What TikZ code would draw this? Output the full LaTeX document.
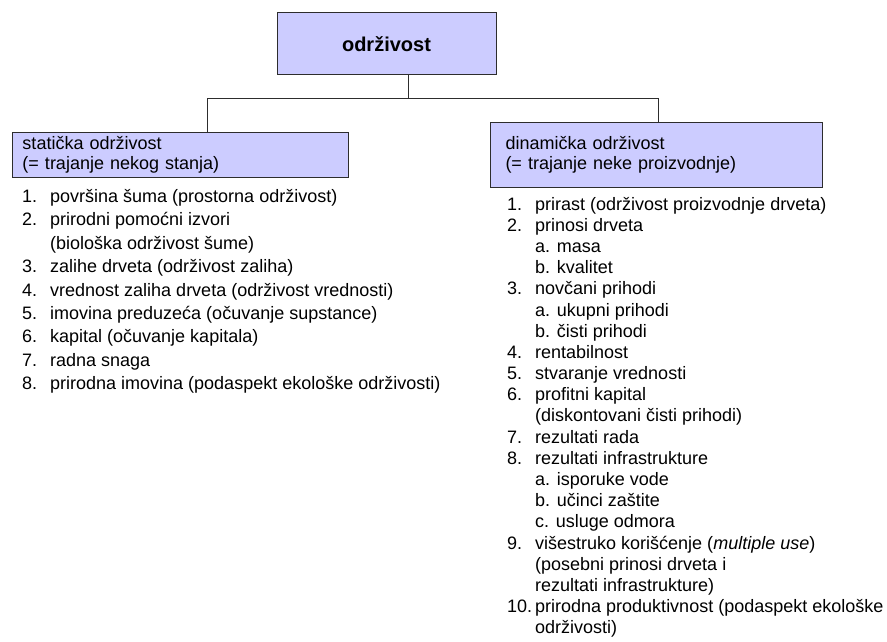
\documentclass[tikz,border=0pt]{standalone}
\usepackage{fontspec}
\setmainfont{Liberation Sans}
\usetikzlibrary{positioning}

\definecolor{boxfill}{RGB}{204,204,255}
\definecolor{boxline}{RGB}{45,45,45}

\begin{document}
\begin{tikzpicture}[
    x=1pt, y=1pt,
    box/.style={rectangle, draw=boxline, fill=boxfill, line width=1pt, inner sep=0pt},
    head/.style={box, anchor=north west, align=left, font=\fontsize{18}{20}\selectfont},
    link/.style={draw=boxline, line width=1pt},
    listing/.style={anchor=base west, inner sep=0pt, font=\fontsize{18}{#1}\selectfont}
]
\useasboundingbox (0,0) rectangle (887,-642);

\node (root) [box, minimum width=219pt, minimum height=62pt, font=\fontsize{20}{24}\selectfont\bfseries] at (386.5,-44) {održivost};

\node (static) [head, minimum width=336pt, minimum height=45pt, text width=316pt] at (12,-132)
    {statička održivost\\(= trajanje nekog stanja)};
\node (dynamic) [head, minimum width=332pt, minimum height=65pt, text width=302pt] at (490,-122)
    {dinamička održivost\\(= trajanje neke proizvodnje)};

% tree lines
\coordinate (split) at (408,-99);
\coordinate (lefttap) at (207,-99);
\coordinate (righttap) at (658,-99);
\draw [link] (root.south -| split) -- (split);
\draw [link] (static.north -| lefttap) -- (lefttap) -- (righttap) -- (dynamic.north -| righttap);

\node (staticlist) [listing=23.5] at (22,-202) {%
\begin{tabular}[t]{@{}p{28pt}@{}l@{}}
1. & površina šuma (prostorna održivost)\\
2. & prirodni pomoćni izvori\\
   & (biološka održivost šume)\\
3. & zalihe drveta (održivost zaliha)\\
4. & vrednost zaliha drveta (održivost vrednosti)\\
5. & imovina preduzeća (očuvanje supstance)\\
6. & kapital (očuvanje kapitala)\\
7. & radna snaga\\
8. & prirodna imovina (podaspekt ekološke održivosti)
\end{tabular}};

\node (dynamiclist) [listing=21.2] at (507,-210) {%
\begin{tabular}[t]{@{}p{28pt}@{}l@{}}
1. & prirast (održivost proizvodnje drveta)\\
2. & prinosi drveta\\
   & a. masa\\
   & b. kvalitet\\
3. & novčani prihodi\\
   & a. ukupni prihodi\\
   & b. čisti prihodi\\
4. & rentabilnost\\
5. & stvaranje vrednosti\\
6. & profitni kapital\\
   & (diskontovani čisti prihodi)\\
7. & rezultati rada\\
8. & rezultati infrastrukture\\
   & a. isporuke vode\\
   & b. učinci zaštite\\
   & c. usluge odmora\\
9. & višestruko korišćenje (\textit{multiple use})\\
   & (posebni prinosi drveta i\\
   & rezultati infrastrukture)\\
10. & prirodna produktivnost (podaspekt ekološke\\
   & održivosti)
\end{tabular}};

\end{tikzpicture}
\end{document}
